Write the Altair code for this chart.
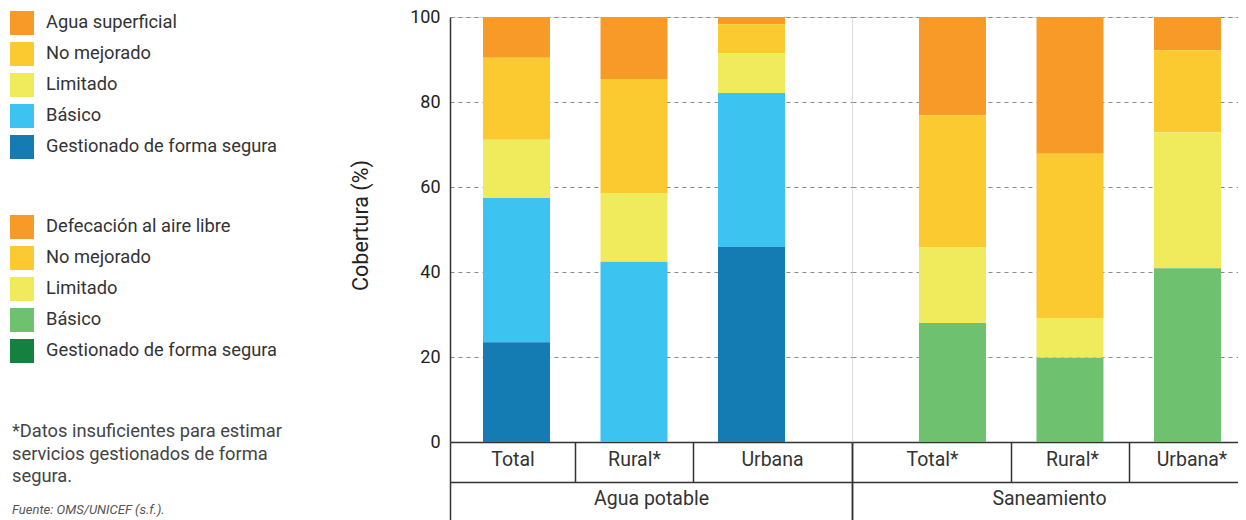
import altair as alt
import pandas as pd

# ---------------- data ----------------
water_categories = ["Total", "Rural*", "Urbana"]
san_categories = ["Total*", "Rural*", "Urbana*"]

water_levels = ["Agua superficial", "No mejorado", "Limitado", "Básico",
                "Gestionado de forma segura"]
san_levels = ["Defecación al aire libre", "No mejorado", "Limitado", "Básico",
              "Gestionado de forma segura"]

water_colors = ["#F79A28", "#FBCA31", "#F0EB5C", "#3DC3F0", "#147CB3"]
san_colors = ["#F79A28", "#FBCA31", "#F0EB5C", "#6DC16F", "#168040"]

# values listed in legend order (top of the bar first)
water_total = [9.6, 19.3, 13.7, 33.9, 23.5]
water_rural = [14.6, 26.8, 16.2, 42.4, 0.0]
water_urban = [1.7, 6.8, 9.4, 36.2, 45.9]
san_total = [23.1, 31.0, 17.9, 28.0, 0.0]
san_rural = [32.2, 38.6, 9.4, 19.8, 0.0]
san_urban = [7.8, 19.3, 32.0, 40.9, 0.0]

y_ticks = [0, 20, 40, 60, 80, 100]
group_water = "Agua potable"
group_san = "Saneamiento"
footnote = "*Datos insuficientes para estimar\nservicios gestionados de forma\nsegura."
source = "Fuente: OMS/UNICEF (s.f.)."

FONT = "Roboto"
LINE = "#333333"


def build_df(categories, levels, values):
    rows = []
    for cat, vals in zip(categories, values):
        for i, (lev, v) in enumerate(zip(levels, vals)):
            rows.append({"cat": cat, "level": lev, "value": v,
                         "rank": len(levels) - 1 - i})
    return pd.DataFrame(rows)


water_df = build_df(water_categories, water_levels,
                    [water_total, water_rural, water_urban])
san_df = build_df(san_categories, san_levels,
                  [san_total, san_rural, san_urban])

PLOT_H = 425
HALF_STEP = 58.75


def panel(df, categories, levels, colors, group, width, pad_outer, align,
          legend_x, legend_y, label_shift, show_y, note=False):
    x_scale = alt.Scale(domain=categories, paddingInner=0.43,
                        paddingOuter=pad_outer, align=align)
    label_cond = [{"test": "datum.value === '%s'" % c, "value": s - HALF_STEP}
                  for c, s in zip(categories, label_shift)]
    x_axis = alt.Axis(
        orient="bottom", title=None, domain=True, domainColor=LINE,
        domainWidth=1.5, ticks=True, tickSize=40, tickOffset=HALF_STEP,
        tickColor=LINE, tickWidth=1.5, grid=False,
        tickOpacity={"condition": {"test": "datum.value === '%s'" % categories[-1],
                                   "value": 0}, "value": 1},
        labelAngle=0, labelFont=FONT, labelFontSize=19.5, labelColor=LINE,
        labelBaseline="middle", labelPadding=-23,
        labelOffset={"condition": label_cond, "value": -HALF_STEP},
    )
    if show_y:
        y_axis = alt.Axis(
            values=y_ticks, grid=True, gridDash=[4, 4], gridColor="#8a8a8a",
            gridWidth=1.2, domain=True, domainColor=LINE, domainWidth=1.5,
            ticks=False, labelFont=FONT, labelFontSize=18, labelColor="#222222",
            labelPadding=10, title="Cobertura (%)", titleFont=FONT,
            titleFontSize=21.5, titleFontWeight="normal", titleColor="#222222",
            titlePadding=37, titleY=208)
    else:
        y_axis = alt.Axis(values=y_ticks, grid=True, gridDash=[4, 4],
                          gridColor="#8a8a8a", gridWidth=1.2, domain=False,
                          ticks=False, labels=False, title=None)

    bars = alt.Chart(df).mark_bar().encode(
        x=alt.X("cat:N", scale=x_scale, sort=categories, axis=x_axis),
        y=alt.Y("value:Q", stack="zero", scale=alt.Scale(domain=[0, 100]),
                axis=y_axis),
        color=alt.Color(
            "level:N", scale=alt.Scale(domain=levels, range=colors),
            legend=alt.Legend(
                title=None, orient="none", legendX=legend_x, legendY=legend_y,
                symbolType="square", symbolSize=576, symbolStrokeWidth=0,
                symbolOpacity=1, labelFont=FONT, labelFontSize=18.3,
                labelColor=LINE, labelOffset=12, rowPadding=7, padding=0,
                labelLimit=400)),
        order=alt.Order("rank:Q", sort="ascending"),
    )

    gdf = pd.DataFrame({"grp": [group]})
    hidden = dict(opacity=0, fillOpacity=0, strokeOpacity=0, strokeWidth=0)
    grp_labels = alt.Chart(gdf).mark_bar(**hidden).encode(
        x=alt.X("grp:N", scale=alt.Scale(paddingInner=0, paddingOuter=0),
                axis=alt.Axis(orient="bottom", title=None, domain=False,
                              grid=False, gridOpacity=0, tickBand="extent",
                              tickSize=80, tickColor=LINE, tickWidth=1.5,
                              labelAngle=0, labelFont=FONT, labelFontSize=19.5,
                              labelColor=LINE, labelBaseline="middle",
                              labelPadding=-24))
    )
    grp_line = alt.Chart(gdf).mark_bar(**hidden).encode(
        x=alt.X("grp:N", scale=alt.Scale(paddingInner=0, paddingOuter=0),
                axis=alt.Axis(orient="bottom", title=None, offset=40,
                              grid=False, gridOpacity=0, domain=True,
                              domainColor=LINE, domainWidth=1.5, ticks=False,
                              labels=False))
    )
    layers = [bars, grp_labels, grp_line]
    if note:
        ndf = pd.DataFrame({"t": [footnote], "s": [source]})
        layers.append(alt.Chart(ndf).mark_text(
            align="left", baseline="top", lineBreak="\n", font=FONT,
            fontSize=18.3, lineHeight=22.5, color="#444444").encode(
            x=alt.value(12 - 450), y=alt.value(406), text="t:N"))
        layers.append(alt.Chart(ndf).mark_text(
            align="left", baseline="top", font=FONT, fontSize=13,
            fontStyle="italic", color="#555555").encode(
            x=alt.value(12 - 450), y=alt.value(487), text="s:N"))
    return alt.layer(*layers).resolve_scale(x="independent").resolve_axis(
        x="independent").properties(width=width, height=PLOT_H)


left = panel(water_df, water_categories, water_levels, water_colors,
             group_water, 402, 0.4255, 0.33, -440, -6, [-4, 0, 20.5], True,
             note=True)
right = panel(san_df, san_categories, san_levels, san_colors, group_san,
              394, 0.3915, 0.728, -842, 198, [-20.5, 2, 4], False)

# svg kept 1230 px wide so that the page does not shrink it
chart = alt.hconcat(left, right, spacing=0, bounds="flush").resolve_scale(
    color="independent", x="independent"
).properties(
    autosize="none",
    padding={"left": 442, "top": 9, "right": 788, "bottom": 503},
).configure_view(strokeWidth=0, stroke="transparent").configure(font=FONT)

chart.save("out.html", embed_options={"renderer": "svg", "actions": False})
